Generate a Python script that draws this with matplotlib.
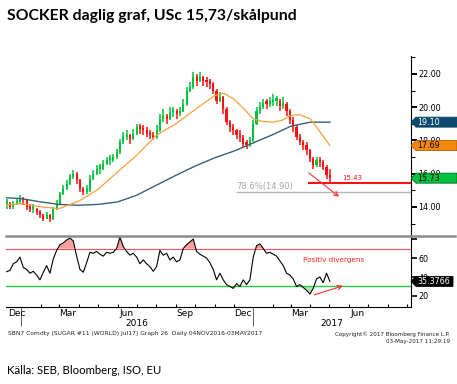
import matplotlib
matplotlib.use('Agg')
import matplotlib.pyplot as plt
import matplotlib.dates as mdates
from matplotlib.patches import Polygon
from matplotlib.lines import Line2D
from matplotlib.transforms import IdentityTransform
import numpy as np
import pandas as pd

W, H, DPI = 457, 384, 100

# ---------------- data ----------------
price_start, price_end = '2015-12-09', '2017-05-02'
close = [14.2, 14.0, 14.2, 14.3, 14.5, 14.4, 14.0, 13.9, 13.9, 13.7,
         13.5, 13.3, 13.5, 13.3, 13.9, 14.2, 14.8, 15.1, 15.4, 15.8,
         16.0, 15.6, 15.1, 14.9, 15.0, 15.7, 16.0, 16.3, 16.3, 16.6,
         16.8, 16.8, 17.0, 17.3, 17.9, 18.2, 18.3, 18.1, 18.4, 18.8,
         18.7, 18.6, 18.4, 18.3, 18.2, 18.6, 19.3, 19.5, 19.3, 19.7,
         19.7, 19.6, 19.8, 20.2, 21.0, 21.2, 21.8, 21.6, 21.8, 21.6,
         21.5, 21.4, 21.0, 20.4, 20.6, 19.9, 19.1, 18.8,
         18.6, 18.35, 18.2, 17.8, 17.75, 18.0, 19.0, 19.8, 20.0, 20.25,
         20.2, 20.3, 20.4, 20.4, 20.1, 20.2, 19.8, 19.2, 18.8, 18.2,
         17.9, 17.7, 17.4, 16.9, 16.5, 16.8, 16.7, 16.4, 15.9, 15.73]
high = [14.5, 14.3, 14.35, 14.45, 14.7, 14.6, 14.45, 14.2, 14.15, 13.95,
        13.8, 13.6, 13.7, 13.55, 14.0, 14.4, 14.9, 15.3, 15.6, 16.0,
        16.2, 16.1, 15.7, 15.2, 15.3, 15.9, 16.2, 16.5, 16.6, 16.8,
        17.0, 17.1, 17.2, 17.5, 18.1, 18.5, 18.6, 18.4, 18.7, 19.0,
        19.0, 18.9, 18.8, 18.6, 18.5, 18.9, 19.6, 19.9, 19.6, 20.0,
        20.0, 19.9, 20.0, 20.5, 21.2, 21.5, 22.1, 22.0, 22.1, 21.9,
        21.8, 21.7, 21.5, 21.1, 20.9, 20.7, 20.0, 19.2,
        19.0, 18.7, 18.6, 18.3, 18.0, 18.2, 19.2, 20.0, 20.3, 20.5,
        20.5, 20.6, 20.8, 20.7, 20.5, 20.6, 20.3, 19.9, 19.4, 18.9,
        18.4, 18.0, 17.9, 17.5, 17.0, 17.0, 17.0, 16.8, 16.5, 16.3]
low = [13.9, 13.85, 13.9, 14.1, 14.2, 14.1, 13.8, 13.7, 13.65, 13.5,
       13.35, 13.15, 13.25, 13.1, 13.2, 13.8, 14.1, 14.7, 15.0, 15.3,
       15.7, 15.4, 14.9, 14.7, 14.75, 14.9, 15.6, 15.9, 16.0, 16.2,
       16.5, 16.55, 16.7, 16.9, 17.2, 17.8, 18.0, 17.8, 18.0, 18.3,
       18.4, 18.3, 18.2, 18.1, 18.0, 18.1, 18.5, 19.1, 19.0, 19.2,
       19.4, 19.3, 19.5, 19.7, 20.1, 20.9, 21.1, 21.3, 21.5, 21.3,
       21.2, 21.1, 20.8, 20.2, 20.3, 19.6, 18.9, 18.5,
       18.3, 18.1, 17.9, 17.6, 17.5, 17.6, 17.9, 18.9, 19.6, 19.9,
       19.9, 20.0, 20.1, 20.1, 19.8, 19.9, 19.5, 19.0, 18.5, 18.0,
       17.7, 17.4, 17.1, 16.7, 16.3, 16.4, 16.4, 16.2, 15.7, 15.43]
rsi = [45.6, 47, 54, 56, 61, 50, 48, 44, 46, 42,
       37, 45, 52, 44, 59, 68, 74, 76, 79, 81,
       78, 62, 48, 45, 55, 66, 65, 67, 64, 62,
       66, 65, 66, 70, 82, 72, 67, 63, 65, 61,
       54, 58, 54, 51, 46, 51, 68, 63, 65, 58,
       61, 56, 58, 70, 74, 77, 80, 67, 64, 62,
       60, 55, 48, 37,
       44, 37, 32, 30, 28, 33, 30, 37, 32, 37,
       61, 73, 75, 70, 65, 66, 64, 62, 57, 52,
       44, 42, 38, 30, 32, 29, 26, 22, 28, 38,
       40, 34, 44, 35.38]

ma_short_dates = ['2015-12-09', '2016-01-01', '2016-02-01', '2016-03-01', '2016-04-01',
                  '2016-05-01', '2016-06-01', '2016-07-01', '2016-08-01', '2016-09-01',
                  '2016-10-01', '2016-11-01', '2016-11-15', '2016-12-01', '2016-12-15',
                  '2017-01-01', '2017-01-15', '2017-02-01', '2017-02-15', '2017-03-01',
                  '2017-03-15', '2017-04-01', '2017-04-15', '2017-05-02']
ma_short = [14.1, 14.2, 14.0, 13.9, 14.35, 15.05, 16.1, 17.1, 18.3, 19.0,
            19.85, 20.7, 20.85, 20.5, 20.0, 19.3, 19.15, 19.1, 19.2, 19.5,
            19.55, 19.3, 18.6, 17.69]
ma_long_dates = ['2015-12-09', '2016-01-01', '2016-02-01', '2016-03-01', '2016-04-01',
                 '2016-05-01', '2016-06-01', '2016-07-01', '2016-08-01', '2016-09-01',
                 '2016-10-01', '2016-11-01', '2016-12-01', '2017-01-01', '2017-02-01',
                 '2017-03-01', '2017-04-01', '2017-05-02']
ma_long = [14.55, 14.5, 14.3, 14.15, 14.1, 14.15, 14.3, 14.7, 15.3, 15.9,
           16.45, 16.95, 17.35, 17.85, 18.35, 18.85, 19.1, 19.1]

last_price = 15.73
support_level = 15.43
fib_level = 14.90
fib_label = '78.6%(14.90)'
rsi_last = 35.3766
rsi_upper, rsi_lower = 70, 30
price_ticks = [14, 16, 18, 20, 22]
rsi_ticks = [20, 40, 60, 80]
month_labels = [('2015-12', 'Dec'), ('2016-03', 'Mar'), ('2016-06', 'Jun'), ('2016-09', 'Sep'),
                ('2016-12', 'Dec'), ('2017-03', 'Mar'), ('2017-06', 'Jun')]
year_labels = ['2016', '2017']
title = 'SOCKER daglig graf, USc 15,73/skålpund'
source = 'Källa: SEB, Bloomberg, ISO, EU'
footer_left = 'SBN7 Comdty (SUGAR #11 (WORLD) Jul17) Graph 26  Daily 04NOV2016-03MAY2017'
footer_right1 = 'Copyright\u00a9 2017 Bloomberg Finance L.P.'
footer_right2 = '03-May-2017 11:29:19'
div_text = 'Positiv divergens'

# ---------------- layout ----------------
def fx(x): return x / W
def fy(y): return 1 - y / H

GREEN = '#00c43c'
RED = '#ff1010'

fig = plt.figure(figsize=(W / DPI, H / DPI), dpi=DPI)
ax = fig.add_axes([fx(6), fy(236), (411 - 6) / W, (236 - 56) / H])
ax2 = fig.add_axes([fx(6), fy(307), (411 - 6) / W, (307 - 236) / H])

x0 = mdates.date2num(pd.Timestamp('2015-12-08'))
x1 = mdates.date2num(pd.Timestamp('2017-09-07'))
for a in (ax, ax2):
    a.set_xlim(x0, x1)
    a.patch.set_alpha(0)
ax.set_ylim(12.25, 23.08)
ax2.set_ylim(8.4, 83.2)

dates = mdates.date2num(pd.date_range(price_start, price_end, periods=len(close)))
close_a = np.array(close)
open_a = np.r_[close_a[0], close_a[:-1]]
colors = [GREEN if c >= o else RED for o, c in zip(open_a, close_a)]
ax.vlines(dates, low, high, colors=colors, lw=1.1, zorder=3)
body = np.maximum(np.abs(close_a - open_a), 0.15)
ax.bar(dates, body, bottom=np.minimum(open_a, close_a), width=3.4, color=colors,
       linewidth=0, zorder=3)

msd = mdates.date2num(pd.to_datetime(ma_short_dates))
mld = mdates.date2num(pd.to_datetime(ma_long_dates))
ax.plot(mld, ma_long, color='#3a6078', lw=1.0, zorder=4)
ax.plot(msd, ma_short, color='#f7a23a', lw=0.9, zorder=4)

# support / fib lines
ax.hlines(support_level, mdates.date2num(pd.Timestamp('2017-03-28')), x1, color=RED, lw=1.5, zorder=5)
ax.text(mdates.date2num(pd.Timestamp('2017-06-06')), support_level + 0.12, f'{support_level:.2f}',
        color=RED, fontsize=5.0, ha='center', va='bottom', zorder=6)
ax.hlines(fib_level, mdates.date2num(pd.Timestamp('2016-12-05')), x1, color='#b4b4b4', lw=1.0, zorder=2)
ax.text(mdates.date2num(pd.Timestamp('2016-12-06')), fib_level + 0.08, fib_label,
        color='#a8a8a8', fontsize=6.0, ha='left', va='bottom', zorder=6)
ax.annotate('', xy=(mdates.date2num(pd.Timestamp('2017-05-20')), 14.51),
            xytext=(mdates.date2num(pd.Timestamp('2017-03-26')), 16.16),
            arrowprops=dict(arrowstyle='->', color='#ff3030', lw=0.8, mutation_scale=8), zorder=6)

# RSI
rsi_a = np.array(rsi)
ax2.plot(dates, rsi_a, color='black', lw=0.8, zorder=4)
ax2.axhline(rsi_upper, color='#ff5050', lw=0.8, zorder=3)
ax2.axhline(rsi_lower, color='#22cc44', lw=1.0, zorder=3)
ax2.fill_between(dates, rsi_a, rsi_upper, where=rsi_a > rsi_upper, interpolate=True,
                 color='#f4a0a0', lw=0, zorder=2)
ax2.fill_between(dates, rsi_a, rsi_lower, where=rsi_a < rsi_lower, interpolate=True,
                 color='#a8e6a8', lw=0, zorder=2)
ax2.annotate('', xy=(mdates.date2num(pd.Timestamp('2017-05-27')), 31.6),
             xytext=(mdates.date2num(pd.Timestamp('2017-04-03')), 20.3),
             arrowprops=dict(arrowstyle='->', color='#ff3030', lw=0.8, mutation_scale=8), zorder=6)
ax2.text(mdates.date2num(pd.Timestamp('2017-03-21')), 58.4, div_text, color='#ff2020',
         fontsize=5.2, ha='left', va='center')

# spines & ticks
for a in (ax, ax2):
    a.spines['left'].set_visible(False)
    a.spines['top'].set_visible(False)
    a.spines['right'].set_linewidth(0.8)
    a.yaxis.tick_right()
ax.spines['bottom'].set_visible(False)
ax2.spines['bottom'].set_linewidth(0.8)

ax.set_yticks(price_ticks)
ax.set_yticklabels([f'{v:.2f}' for v in price_ticks])
ax.set_yticks(np.arange(13, 24, 1), minor=True)
ax.tick_params(axis='y', which='major', direction='out', length=4, width=1.4, pad=1.5,
               labelsize=5.8)
ax.tick_params(axis='y', which='minor', direction='out', length=3, width=0.7)
ax.tick_params(axis='x', which='both', bottom=False, labelbottom=False)

ax2.set_yticks(rsi_ticks)
ax2.set_yticklabels([str(v) if v < 80 else '' for v in rsi_ticks])
ax2.tick_params(axis='y', which='major', direction='out', length=4, width=1.2, pad=1.5,
                labelsize=5.8)

month_starts = mdates.date2num(pd.date_range('2016-01-01', '2017-09-01', freq='MS'))
year_starts = mdates.date2num(pd.to_datetime(['2016-01-01', '2017-01-01']))
ax2.set_xticks(year_starts)
ax2.set_xticks(month_starts, minor=True)
ax2.tick_params(axis='x', which='major', direction='out', length=14, width=0.6, color='#444444',
                labelbottom=False)
ax2.tick_params(axis='x', which='minor', direction='in', length=2.5, width=0.8)

# month labels
tdx = ax2.transData
for i, (ym, lab) in enumerate(month_labels):
    d = mdates.date2num(pd.Timestamp(ym + '-15'))
    px = tdx.transform((d, 0))[0]
    if i == 0:
        px = tdx.transform((x0, 0))[0] + 10.5
    fig.text(px / W, fy(313), lab, fontsize=6.5, ha='center', va='center')
# year labels centred in the visible part of each year
bounds = [year_starts[0], year_starts[1], x1]
for j, lab in enumerate(year_labels):
    mid = (bounds[j] + bounds[j + 1]) / 2
    px = tdx.transform((mid, 0))[0]
    fig.text(px / W, fy(323), lab, fontsize=6.5, ha='center', va='center')

# separator between panels
fig.add_artist(Line2D([fx(6), fx(455)], [fy(236), fy(236)], color='#8c8c8c', lw=1.8))

# value tags
def tag(axis, val, face, txtcolor, text, right=457, edge=None):
    xs = axis.transAxes.transform((1, 0))[0]
    ys = axis.transData.transform((x0, val))[1]
    verts = [(xs, ys), (xs + 5, ys + 5), (right, ys + 5), (right, ys - 5), (xs + 5, ys - 5)]
    p = Polygon(verts, closed=True, transform=IdentityTransform(), facecolor=face,
                edgecolor=edge if edge else face, lw=0.6, zorder=10)
    fig.add_artist(p)
    fig.text((xs + 6) / W, ys / H, text, color=txtcolor, fontsize=5.8, ha='left', va='center',
             zorder=11)

tag(ax, ma_long[-1], '#0f4a6e', 'white', f'{ma_long[-1]:.2f}')
tag(ax, ma_short[-1], '#f5870a', 'black', f'{ma_short[-1]:.2f}', edge='#b06000')
tag(ax, last_price, '#00c440', 'black', f'{last_price:.2f}', edge='#006a20')
tag(ax2, rsi_last, 'black', 'white', f'{rsi_last:.4f}', right=453)

# texts
fig.text(fx(7), fy(20), title, fontfamily='Lato', fontweight='bold', fontsize=11.3,
         va='baseline', ha='left')
fig.text(fx(7), fy(374.3), source, fontfamily='Lato', fontsize=8.2, va='baseline', ha='left')
fig.text(fx(8), fy(334), footer_left, fontsize=4.3, va='center', ha='left', color='#222222')
fig.text(fx(450), fy(334), footer_right1, fontsize=4.1, va='center', ha='right', color='#222222')
fig.text(fx(450), fy(342), footer_right2, fontsize=4.1, va='center', ha='right', color='#222222')

fig.savefig('out.png', dpi=DPI)
